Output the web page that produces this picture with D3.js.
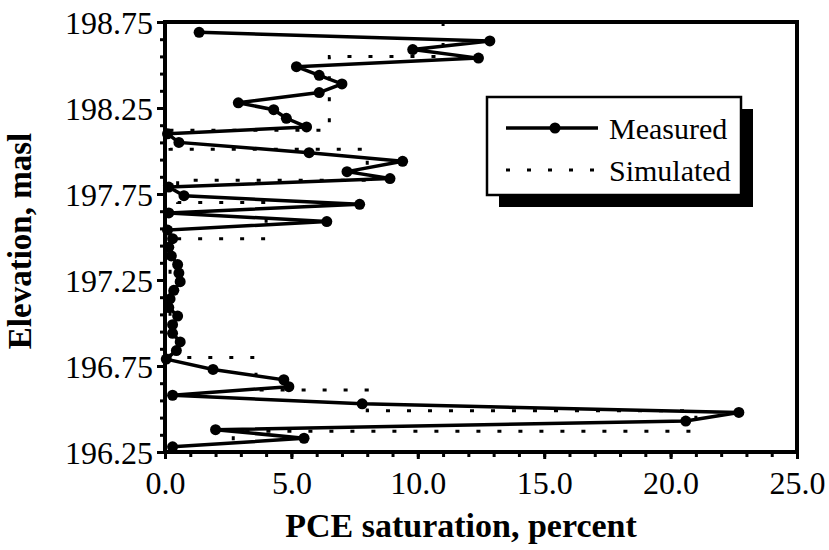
<!DOCTYPE html>
<html>
<head>
<meta charset="utf-8">
<script src="https://cdn.jsdelivr.net/npm/d3@7"></script>
<style>
  body { margin: 0; background: #fff; }
  svg text { font-family: "Liberation Serif", "Tinos", "Times New Roman", Times, "DejaVu Serif", serif !important; fill: #000; }
</style>
</head>
<body>
<div id="chart"></div>
<script>
// measured PCE saturation profile (elevation in masl, saturation in percent)
var measuredElev = [198.69, 198.64, 198.59, 198.54, 198.49, 198.44, 198.39, 198.34, 198.28, 198.24,
  198.19, 198.14, 198.10, 198.05, 197.99, 197.94, 197.88, 197.84, 197.79, 197.74,
  197.69, 197.64, 197.59, 197.54, 197.49, 197.44, 197.39, 197.34, 197.29, 197.24,
  197.19, 197.14, 197.09, 197.04, 196.99, 196.94, 196.89, 196.84, 196.79, 196.73,
  196.67, 196.63, 196.58, 196.53, 196.48, 196.43, 196.38, 196.33, 196.28];
var measuredSat = [1.35, 12.85, 9.8, 12.4, 5.2, 6.1, 7.0, 6.1, 2.9, 4.3,
  4.8, 5.6, 0.1, 0.55, 5.7, 9.4, 7.2, 8.9, 0.15, 0.75,
  7.7, 0.15, 6.4, 0.1, 0.3, 0.15, 0.25, 0.5, 0.55, 0.6,
  0.35, 0.2, 0.15, 0.5, 0.3, 0.3, 0.6, 0.45, 0.05, 1.9,
  4.7, 4.9, 0.3, 7.8, 22.7, 20.6, 2.0, 5.5, 0.3];

// simulated profile (stepped)
var simulatedElev = [198.75, 198.55, 198.55, 198.12, 198.12, 198.01, 198.01, 197.83, 197.83, 197.70,
  197.70, 197.49, 197.49, 196.80, 196.80, 196.61, 196.61, 196.49, 196.49, 196.37, 196.37, 196.25];
var simulatedSat = [11.0, 11.0, 6.5, 6.5, 0.2, 0.2, 8.0, 8.0, 0.5, 0.5,
  4.0, 4.0, 0.2, 0.2, 3.6, 3.6, 8.0, 8.0, 21.0, 21.0, 2.7, 2.7];

var xTicks = [0, 5, 10, 15, 20, 25];
var yTicks = [196.25, 196.75, 197.25, 197.75, 198.25, 198.75];
var legendLabels = ['Measured', 'Simulated'];

var width = 829, height = 550;
var margin = {top: 22, right: 32, bottom: 98, left: 165};
var serif = '"Liberation Serif", "Tinos", "Times New Roman", Times, "DejaVu Serif", serif';

var svg = d3.select('#chart').append('svg')
    .attr('width', width)
    .attr('height', height)
    .attr('font-family', serif);

var x = d3.scaleLinear().domain([0, 25]).range([margin.left, width - margin.right]);
var y = d3.scaleLinear().domain([196.25, 198.75]).range([height - margin.bottom, margin.top]);

// minor ticks
svg.append('g')
    .attr('transform', 'translate(0,' + y.range()[0] + ')')
    .call(d3.axisBottom(x).tickValues(d3.range(0, 25.01, 1)).tickSize(5).tickFormat(''))
    .call(function (g) { g.select('.domain').remove(); })
    .selectAll('line').attr('stroke-width', 3);
svg.append('g')
    .attr('transform', 'translate(' + x.range()[0] + ',0)')
    .call(d3.axisLeft(y).tickValues(d3.range(0, 26).map(function (i) { return 196.25 + i * 0.1; }).filter(function (v) { return v <= 198.76; })).tickSize(5).tickFormat(''))
    .call(function (g) { g.select('.domain').remove(); })
    .selectAll('line').attr('stroke-width', 3);

// major ticks with labels
var xAxis = svg.append('g')
    .attr('transform', 'translate(0,' + y.range()[0] + ')')
    .call(d3.axisBottom(x).tickValues(xTicks).tickSize(7).tickPadding(12).tickFormat(d3.format('.1f')));
xAxis.attr('font-family', serif);
xAxis.select('.domain').remove();
xAxis.selectAll('line').attr('stroke-width', 3);
xAxis.selectAll('text').attr('font-size', 32);

var yAxis = svg.append('g')
    .attr('transform', 'translate(' + x.range()[0] + ',0)')
    .call(d3.axisLeft(y).tickValues(yTicks).tickSize(8).tickPadding(4).tickFormat(d3.format('.2f')));
yAxis.attr('font-family', serif);
yAxis.select('.domain').remove();
yAxis.selectAll('line').attr('stroke-width', 3);
yAxis.selectAll('text').attr('font-size', 32).attr('dy', '0.35em');

// frame
svg.append('rect')
    .attr('x', x.range()[0])
    .attr('y', y.range()[1])
    .attr('width', x.range()[1] - x.range()[0])
    .attr('height', y.range()[0] - y.range()[1])
    .attr('fill', 'none')
    .attr('stroke', '#000')
    .attr('stroke-width', 4);

var lineGen = d3.line()
    .x(function (d) { return x(d[1]); })
    .y(function (d) { return y(d[0]); });

var simulated = d3.zip(simulatedElev, simulatedSat);
var measured = d3.zip(measuredElev, measuredSat);

svg.append('path')
    .datum(simulated)
    .attr('d', lineGen)
    .attr('fill', 'none')
    .attr('stroke', '#000')
    .attr('stroke-width', 3)
    .attr('stroke-dasharray', '4 17');

svg.append('path')
    .datum(measured)
    .attr('d', lineGen)
    .attr('fill', 'none')
    .attr('stroke', '#000')
    .attr('stroke-width', 3.5);

svg.append('g').selectAll('circle')
    .data(measured)
  .enter().append('circle')
    .attr('cx', function (d) { return x(d[1]); })
    .attr('cy', function (d) { return y(d[0]); })
    .attr('r', 5.5)
    .attr('fill', '#000');

// axis titles
svg.append('text')
    .attr('x', 461)
    .attr('y', 537)
    .attr('text-anchor', 'middle')
    .attr('font-size', 34)
    .attr('font-weight', 'bold')
    .text('PCE saturation, percent');

svg.append('text')
    .attr('transform', 'translate(31,' + ((y.range()[0] + y.range()[1]) / 2 + 4) + ') rotate(-90)')
    .attr('text-anchor', 'middle')
    .attr('font-size', 33)
    .attr('font-weight', 'bold')
    .text('Elevation, masl');

// legend with drop shadow
var legend = svg.append('g').attr('transform', 'translate(487,97)');
legend.append('rect')
    .attr('x', 12).attr('y', 12)
    .attr('width', 254).attr('height', 98)
    .attr('fill', '#000');
legend.append('rect')
    .attr('width', 254).attr('height', 98)
    .attr('fill', '#fff')
    .attr('stroke', '#000')
    .attr('stroke-width', 2.5);

legend.append('line')
    .attr('x1', 19).attr('x2', 111).attr('y1', 31).attr('y2', 31)
    .attr('stroke', '#000').attr('stroke-width', 3.5);
legend.append('circle')
    .attr('cx', 68).attr('cy', 31).attr('r', 5.5).attr('fill', '#000');
legend.append('line')
    .attr('x1', 19).attr('x2', 111).attr('y1', 73).attr('y2', 73)
    .attr('stroke', '#000').attr('stroke-width', 3)
    .attr('stroke-dasharray', '4 17');

legend.selectAll('text.lab')
    .data(legendLabels)
  .enter().append('text')
    .attr('class', 'lab')
    .attr('x', 122)
    .attr('y', function (d, i) { return 31 + i * 42; })
    .attr('dy', '0.35em')
    .attr('font-size', 30)
    .text(function (d) { return d; });
</script>
</body>
</html>
